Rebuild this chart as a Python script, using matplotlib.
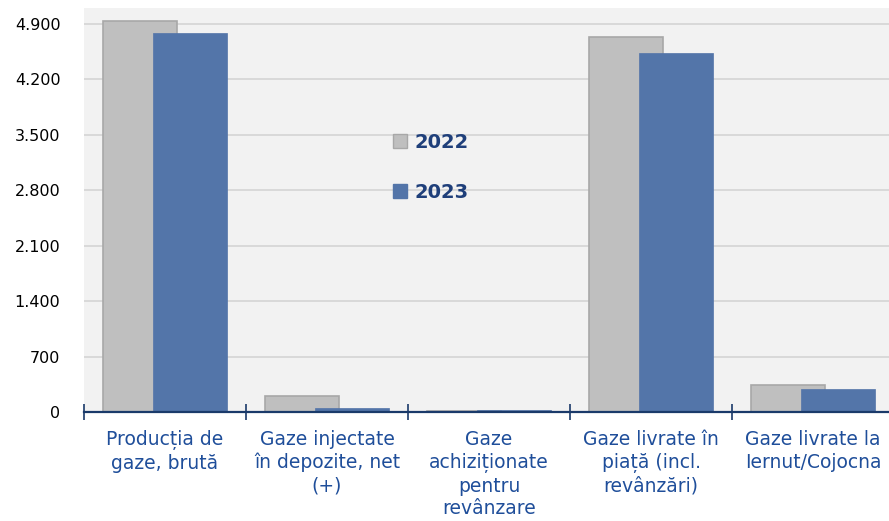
import matplotlib
matplotlib.use("Agg")
import matplotlib.pyplot as plt
import numpy as np
from matplotlib.patches import Patch

categories = ["Producția de\ngaze, brută", "Gaze injectate\nîn depozite, net\n(+)",
              "Gaze\nachiziționate\npentru\nrevânzare", "Gaze livrate în\npiață (incl.\nrevânzări)",
              "Gaze livrate la\nIernut/Cojocna"]
v2022 = [4940, 200, 10, 4735, 340]
v2023 = [4790, 55, 20, 4535, 288]
yticks = [0, 700, 1400, 2100, 2800, 3500, 4200, 4900]
ytick_labels = ["0", "700", "1.400", "2.100", "2.800", "3.500", "4.200", "4.900"]

W, H = 889, 521
fig = plt.figure(figsize=(W/100, H/100), dpi=100)
ax = fig.add_axes([84/W, (H-412)/H, (894-84)/W, (412-8)/H])
ax.set_facecolor("#f2f2f2")

x = np.arange(len(categories))
bw = 0.457
off = 0.154
gray = "#bfbfbf"
blue = "#5375a9"
ax.bar(x - off, v2022, bw, color=gray, edgecolor="#a8a8a8", linewidth=1.2, zorder=2)
ax.bar(x + off, v2023, bw, color=blue, edgecolor=blue, linewidth=0.5, zorder=3)

ax.set_xlim(-0.5, 4.5)
ax.set_ylim(0, 5100)
ax.set_yticks(yticks)
ax.set_yticklabels(ytick_labels)
ax.yaxis.grid(True, color="#d4d4d4", linewidth=1.2, zorder=0)
ax.set_axisbelow(True)
ax.tick_params(axis="y", length=0, pad=17, labelsize=11.5, labelcolor="#000000")

ax.set_xticks(x)
ax.set_xticklabels(categories, fontsize=13.5, color="#1f4e9a", linespacing=1.25)
ax.set_xticks(np.arange(-0.5, 5.0, 1.0), minor=True)
ax.tick_params(axis="x", which="major", length=0, pad=13)
ax.tick_params(axis="x", which="minor", length=12, direction="inout", color="#1a3a6a", width=1.2)

for s in ["top", "right", "left"]:
    ax.spines[s].set_visible(False)
ax.spines["bottom"].set_color("#1a3a6a")
ax.spines["bottom"].set_linewidth(1.6)
ax.spines["bottom"].set_zorder(5)

handles = [Patch(facecolor=gray, edgecolor="#a8a8a8", label="2022"),
           Patch(facecolor=blue, edgecolor=blue, label="2023")]
leg = ax.legend(handles=handles, loc="center", bbox_to_anchor=(0.428, 0.605),
                frameon=False, handlelength=0.75, handleheight=0.75, handletextpad=0.35,
                labelspacing=1.6, prop={"weight": "bold", "size": 14})
for t in leg.get_texts():
    t.set_color("#1f3f7a")

fig.savefig("out.png", dpi=100, facecolor="white")
